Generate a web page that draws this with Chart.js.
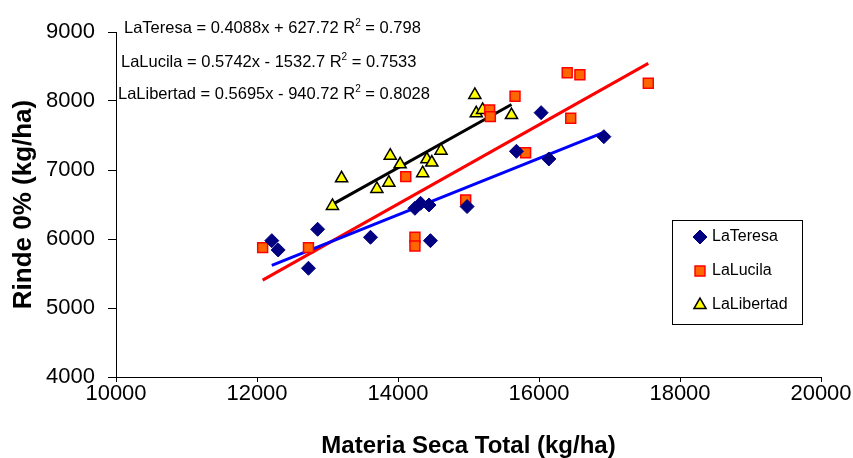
<!DOCTYPE html>
<html>
<head>
<meta charset="utf-8">
<title>Rinde vs Materia Seca</title>
<script src="https://cdn.jsdelivr.net/npm/chart.js@4/dist/chart.umd.min.js"></script>
<style>
  html, body { margin: 0; padding: 0; background: #fff; }
  #wrap { width: 853px; height: 458px; }
</style>
</head>
<body>
<div id="wrap"><canvas id="myChart" width="853" height="458"></canvas></div>
<script>
// data
const seriesNames = ['LaTeresa', 'LaLucila', 'LaLibertad'];

const teresaX = [12210, 12300, 12860, 12730, 13610, 14240, 14320, 14440, 14460, 14980, 15680, 16030, 16140, 16920];
const teresaY = [5976, 5841, 6141, 5576, 6025, 6445, 6517, 6493, 5976, 6470, 7271, 7831, 7160, 7483];

const lucilaX = [12080, 12730, 14110, 14240, 14240, 14960, 15300, 15310, 15660, 15810, 16400, 16580, 16450, 17550];
const lucilaY = [5875, 5875, 6904, 6025, 5899, 6566, 7870, 7773, 8068, 7251, 8410, 8381, 7750, 8257];

const libertadX = [13070, 13200, 13700, 13870, 13890, 14030, 14350, 14410, 14480, 14610, 15090, 15110, 15200, 15610];
const libertadY = [6480, 6880, 6725, 6816, 7208, 7083, 6953, 7155, 7107, 7280, 8087, 7822, 7870, 7797];

// trendline equations printed on the chart
const slopes = [0.4088, 0.5742, 0.5695];
const intercepts = [627.72, -1532.7, -940.72];
const rSquared = ['0.798', '0.7533', '0.8028'];

const xTicks = [10000, 12000, 14000, 16000, 18000, 20000];
const yTicks = [4000, 5000, 6000, 7000, 8000, 9000];

const FONT = "'Liberation Sans', Arial, sans-serif";

const toPoints = (xs, ys) => xs.map((x, i) => ({ x: x, y: ys[i] }));
const trend = (xs, k) => {
    const lo = Math.min(...xs), hi = Math.max(...xs);
    return [lo, hi].map(x => ({ x: x, y: slopes[k] * x + intercepts[k] }));
};

const markerStyles = [
    { pointStyle: 'rectRot', radius: 7, backgroundColor: '#000080', borderColor: '#000080', borderWidth: 1 },
    { pointStyle: 'rect', radius: 7, backgroundColor: '#FF6600', borderColor: '#FF0000', borderWidth: 1.5 },
    { pointStyle: 'triangle', radius: 7, backgroundColor: '#FFFF00', borderColor: '#000000', borderWidth: 1.5 }
];
const lineColors = ['#0000FF', '#FF0000', '#000000'];
const allX = [teresaX, lucilaX, libertadX];
const allY = [teresaY, lucilaY, libertadY];

const datasets = [];
seriesNames.forEach((name, k) => {
    const m = markerStyles[k];
    datasets.push({
        label: name,
        data: toPoints(allX[k], allY[k]),
        pointStyle: m.pointStyle,
        pointRadius: m.radius,
        pointBackgroundColor: m.backgroundColor,
        pointBorderColor: m.borderColor,
        pointBorderWidth: m.borderWidth,
        showLine: false,
        order: 1
    });
});
seriesNames.forEach((name, k) => {
    datasets.push({
        label: name + ' trend',
        data: trend(allX[k], k),
        showLine: true,
        borderColor: lineColors[k],
        borderWidth: 3,
        pointRadius: 0,
        order: 2
    });
});

// equations + legend box
const overlay = {
    id: 'overlay',
    afterDraw(chart) {
        const ctx = chart.ctx;
        ctx.save();
        ctx.fillStyle = '#000';
        ctx.textBaseline = 'alphabetic';
        const eqX = [124, 121, 118];
        const eqY = [33, 67, 99];
        seriesNames.forEach((name, k) => {
            const sign = intercepts[k] < 0 ? '-' : '+';
            const first = name + ' = ' + slopes[k] + 'x ' + sign + ' ' + Math.abs(intercepts[k]) + ' R';
            ctx.font = '16.5px ' + FONT;
            let x = eqX[k];
            ctx.fillText(first, x, eqY[k]);
            x += ctx.measureText(first).width;
            ctx.font = '10px ' + FONT;
            ctx.fillText('2', x, eqY[k] - 7);
            x += ctx.measureText('2').width;
            ctx.font = '16.5px ' + FONT;
            ctx.fillText(' = ' + rSquared[k], x, eqY[k]);
        });

        // legend
        ctx.strokeStyle = '#000';
        ctx.lineWidth = 1;
        ctx.strokeRect(672.5, 220.5, 130, 104);
        const legY = [237, 271, 305];
        seriesNames.forEach((name, k) => {
            const m = markerStyles[k];
            ctx.fillStyle = m.backgroundColor;
            ctx.strokeStyle = m.borderColor;
            ctx.lineWidth = m.borderWidth;
            Chart.helpers.drawPoint(ctx, { pointStyle: m.pointStyle, radius: m.radius, rotation: 0, borderWidth: m.borderWidth }, 700, legY[k]);
            ctx.fillStyle = '#000';
            ctx.font = '16px ' + FONT;
            ctx.textBaseline = 'middle';
            ctx.fillText(name, 712, legY[k]);
        });
        ctx.restore();
    }
};

new Chart(document.getElementById('myChart').getContext('2d'), {
    type: 'scatter',
    data: { datasets: datasets },
    options: {
        responsive: false,
        animation: false,
        layout: { padding: { left: 0, right: 32, top: 32, bottom: 0 } },
        plugins: { legend: { display: false }, tooltip: { enabled: false } },
        scales: {
            x: {
                type: 'linear',
                min: 10000,
                max: 20000,
                afterBuildTicks: axis => { axis.ticks = xTicks.map(v => ({ value: v })); },
                afterFit: axis => { axis.height = 81; },
                ticks: { color: '#000', font: { family: FONT, size: 22 }, padding: -1, maxRotation: 0, callback: v => String(v) },
                grid: { drawOnChartArea: false, drawTicks: true, tickLength: 5, color: '#000', tickColor: '#000' },
                border: { display: true, color: '#000', width: 1 },
                title: { display: true, text: 'Materia Seca Total (kg/ha)', color: '#000', font: { family: FONT, size: 24, weight: 'bold', lineHeight: 1 }, padding: { top: 0, bottom: 0 } }
            },
            y: {
                type: 'linear',
                min: 4000,
                max: 9000,
                afterBuildTicks: axis => { axis.ticks = yTicks.map(v => ({ value: v })); },
                afterFit: axis => { axis.width = 116; },
                ticks: { color: '#000', font: { family: FONT, size: 22 }, padding: 13, callback: v => String(v) },
                grid: { drawOnChartArea: false, drawTicks: true, tickLength: 8, color: '#000', tickColor: '#000' },
                border: { display: true, color: '#000', width: 1 },
                title: { display: true, text: 'Rinde 0% (kg/ha)', color: '#000', font: { family: FONT, size: 26, weight: 'bold', lineHeight: 1 }, padding: { top: 11, bottom: 0 } }
            }
        }
    },
    plugins: [overlay]
});
</script>
</body>
</html>
